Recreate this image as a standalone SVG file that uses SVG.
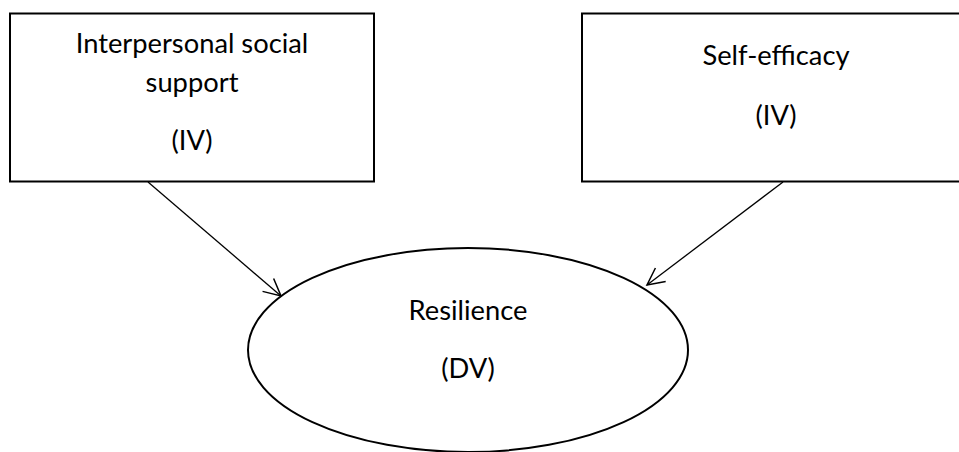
<svg xmlns="http://www.w3.org/2000/svg" width="959" height="452" viewBox="0 0 959 452">
  <defs>
    <style>
      .box { fill: #ffffff; stroke: #000000; stroke-width: 2; }
      .oval { fill: #ffffff; stroke: #000000; stroke-width: 2; }
      .lbl { font-family: "Lato", "Open Sans", "Liberation Sans", sans-serif; font-size: 27.3px; fill: #000000; text-anchor: middle; }
      .conn { stroke: #000000; stroke-width: 1.3; fill: none; marker-end: url(#arrow); }
    </style>
    <marker id="arrow" markerUnits="userSpaceOnUse" markerWidth="24" markerHeight="24" viewBox="-20 -12 24 24" refX="0" refY="0" orient="auto">
      <path d="M-17,-8.5 L0,0 L-17,8.5" fill="none" stroke="#000000" stroke-width="1.5"/>
    </marker>
  </defs>
  <rect width="959" height="452" fill="#ffffff"/>
  <g id="connectors">
    <line class="conn" x1="148" y1="182" x2="281" y2="296"/>
    <line class="conn" x1="783" y1="182" x2="647" y2="285"/>
  </g>
  <g id="node-interpersonal">
    <rect class="box" x="10" y="13.5" width="364" height="168"/>
    <text class="lbl" x="192" y="53">Interpersonal social</text>
    <text class="lbl" x="192" y="92">support</text>
    <text class="lbl" x="192" y="150">(IV)</text>
  </g>
  <g id="node-selfefficacy">
    <rect class="box" x="582" y="13.5" width="388" height="168"/>
    <text class="lbl" x="776" y="65">Self-efficacy</text>
    <text class="lbl" x="776" y="125">(IV)</text>
  </g>
  <g id="node-resilience">
    <ellipse class="oval" cx="468" cy="350" rx="220" ry="102"/>
    <text class="lbl" x="468" y="320">Resilience</text>
    <text class="lbl" x="468" y="378">(DV)</text>
  </g>
</svg>
